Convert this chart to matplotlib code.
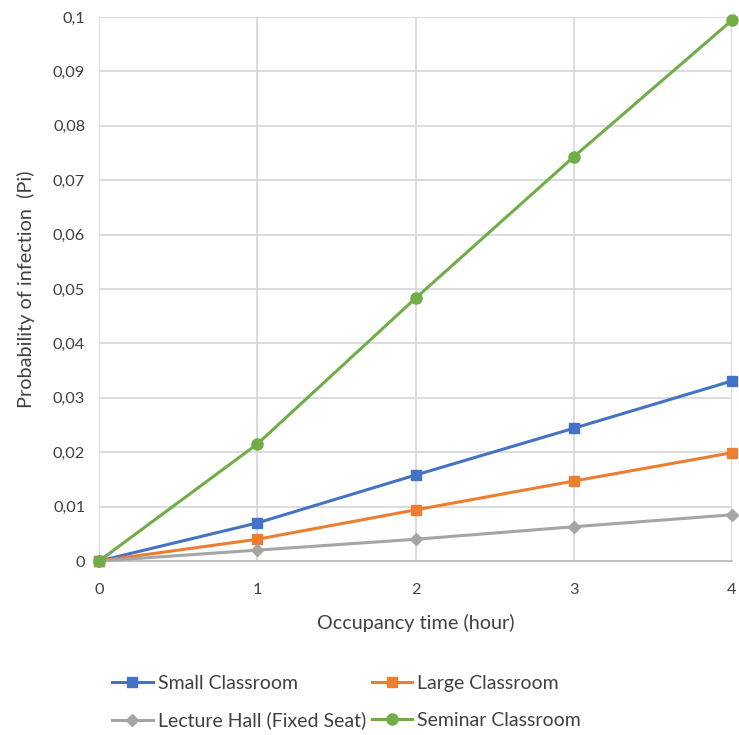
import matplotlib.pyplot as plt
from matplotlib.ticker import FuncFormatter

plt.rcParams['font.family'] = ['Lato', 'DejaVu Sans']

# Data
hours = [0, 1, 2, 3, 4]
small_classroom = [0.0, 0.0070, 0.0158, 0.0244, 0.0331]
large_classroom = [0.0, 0.0040, 0.0094, 0.0147, 0.0199]
lecture_hall = [0.0, 0.0020, 0.0040, 0.0063, 0.0085]
seminar_classroom = [0.0, 0.0215, 0.0483, 0.0743, 0.0994]

series = [
    ("Small Classroom", small_classroom, '#4472C4', 's', 7),
    ("Large Classroom", large_classroom, '#ED7D31', 's', 7),
    ("Lecture Hall (Fixed Seat)", lecture_hall, '#A5A5A5', 'D', 6),
    ("Seminar Classroom", seminar_classroom, '#70AD47', 'o', 8),
]

fig = plt.figure(figsize=(7.39, 7.35), dpi=100)
ax = fig.add_axes([0.134, 0.2367, 0.8565, 0.7402])

lines = []
for label, vals, color, marker, ms in series:
    ln, = ax.plot(hours, vals, color=color, marker=marker, markersize=ms, lw=2.2,
                  label=label, clip_on=False, zorder=3)
    lines.append(ln)

ax.set_xlim(0, 4)
ax.set_ylim(0, 0.1)
ax.set_xticks(hours)
ax.set_yticks([i / 100 for i in range(11)])
ax.yaxis.set_major_formatter(FuncFormatter(
    lambda v, p: '0' if abs(v) < 1e-9 else f"{v:.2f}".rstrip('0').replace('.', ',')))

ax.grid(True, color='#D9D9D9', lw=1.3)
ax.set_axisbelow(True)
for s in ['top', 'right', 'left']:
    ax.spines[s].set_visible(False)
ax.spines['bottom'].set_color('#BFBFBF')
ax.spines['bottom'].set_linewidth(1.3)
ax.tick_params(length=0, labelsize=11.8, colors='#404040')
ax.tick_params(axis='x', pad=16)
ax.tick_params(axis='y', pad=10)

ax.set_xlabel("Occupancy time (hour)", fontsize=14.3, color='#404040', labelpad=12)
ax.set_ylabel("Probability of infection  (Pi)", fontsize=14.3, color='#404040', labelpad=13)

# row-wise order in a 2-column legend
order = [0, 2, 1, 3]
ax.legend([lines[i] for i in order], [series[i][0] for i in order],
          loc='upper left', bbox_to_anchor=(0.008, -0.195), ncol=2, frameon=False,
          fontsize=14.0, handlelength=2.1, columnspacing=0.3, labelspacing=1.02,
          handletextpad=0.25, labelcolor='#404040', borderaxespad=0)

fig.savefig("out.png", dpi=100)
